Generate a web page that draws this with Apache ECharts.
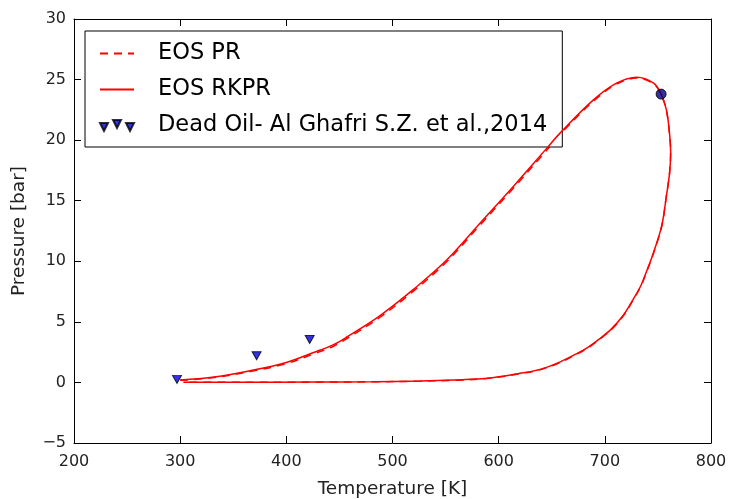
<!DOCTYPE html>
<html>
<head>
<meta charset="utf-8">
<script src="https://cdn.jsdelivr.net/npm/echarts@6/dist/echarts.min.js"></script>
<style>
  html, body { margin: 0; padding: 0; background: #fff; }
  #chart { width: 730px; height: 499px; }
</style>
</head>
<body>
<div id="chart"></div>
<script>
// phase envelope (T in K, P in bar), traced as a loop
var rkprT = [300, 330, 366, 400, 425, 444, 457, 488, 520, 551, 582, 614, 645, 658, 689, 711, 730, 746, 753, 758, 761, 762, 761, 758, 753.5, 745, 739, 734, 727, 717, 706, 695, 684, 674, 658, 640, 620, 589, 557, 526, 480, 420, 360, 303];
var rkprP = [0.2, 0.42, 0.97, 1.65, 2.45, 3.1, 3.75, 5.5, 7.7, 10.1, 13.1, 16.2, 19.3, 20.6, 23.3, 24.7, 25.2, 24.7, 23.8, 22.5, 20.5, 19, 17.3, 15.4, 12.9, 10.5, 9.1, 8.0, 6.9, 5.5, 4.4, 3.6, 2.9, 2.4, 1.7, 1.1, 0.75, 0.34, 0.2, 0.12, 0.06, 0.03, 0.02, 0.02];

var prT = [300, 330, 366, 400, 425, 444, 457, 488, 520, 551, 582, 614, 645, 658, 689, 711, 730, 746, 753, 758, 761, 762, 761, 758, 753.5, 745, 739, 734, 727, 717, 706, 695, 684, 674, 658, 640, 620, 589, 557, 526, 480, 420, 360, 305];
var prP = [0.17, 0.38, 0.9, 1.55, 2.33, 2.97, 3.62, 5.36, 7.56, 9.96, 12.95, 16.05, 19.15, 20.48, 23.2, 24.63, 25.12, 24.65, 23.75, 22.45, 20.45, 19, 17.3, 15.4, 12.85, 10.45, 9.05, 7.95, 6.85, 5.45, 4.35, 3.55, 2.85, 2.35, 1.65, 1.07, 0.72, 0.32, 0.18, 0.1, 0.05, 0.02, 0.01, 0.01];

// experimental points
var expT = [297, 372, 422];
var expP = [0.25, 2.2, 3.55];

// critical point
var critT = [753];
var critP = [23.8];

function pairs(xs, ys) {
    var out = [];
    for (var i = 0; i < xs.length; i++) out.push([xs[i], ys[i]]);
    return out;
}

var font = 'DejaVu Sans';
var threeTriangles = 'path://M0,3 L8,3 L4,11 Z M13,0 L21,0 L17,8 Z M26,3 L34,3 L30,11 Z';
var hideSymbol = { opacity: 0, borderWidth: 0 };

var myChart = echarts.init(document.getElementById('chart'));

var tickStyle = { show: true, inside: true, length: 7, lineStyle: { color: '#000', width: 1 } };
var lineStyle = { show: true, onZero: false, lineStyle: { color: '#000', width: 1 } };

var option = {
    backgroundColor: '#fff',
    animation: false,
    grid: { left: 74, right: 19, top: 19, bottom: 56, outerBoundsMode: 'none' },
    legend: {
        orient: 'vertical',
        left: 85,
        top: 31,
        padding: [11, 15, 10, 14],
        itemGap: 13,
        itemWidth: 34,
        itemHeight: 11,
        borderColor: '#000',
        borderWidth: 1,
        backgroundColor: '#fff',
        textStyle: { fontFamily: font, fontSize: 22.5, color: '#000', lineHeight: 23, padding: [0, 0, 0, 19] },
        data: [
            { name: 'EOS PR', itemStyle: hideSymbol },
            { name: 'EOS RKPR', itemStyle: hideSymbol },
            { name: 'Dead Oil- Al Ghafri S.Z. et al.,2014', icon: threeTriangles }
        ]
    },
    xAxis: [{
        type: 'value',
        min: 200, max: 800, interval: 100,
        name: 'Temperature [K]',
        nameLocation: 'middle',
        nameGap: 37,
        nameTextStyle: { fontFamily: font, fontSize: 18.5, color: '#222' },
        axisLine: lineStyle,
        axisTick: tickStyle,
        splitLine: { show: false },
        axisLabel: { fontFamily: font, fontSize: 16, color: '#222', margin: 11 }
    }, {
        type: 'value',
        position: 'top',
        min: 200, max: 800, interval: 100,
        axisLine: lineStyle,
        axisTick: tickStyle,
        splitLine: { show: false },
        axisLabel: { show: false }
    }],
    yAxis: [{
        type: 'value',
        min: -5, max: 30, interval: 5,
        name: 'Pressure [bar]',
        nameLocation: 'middle',
        nameGap: 45,
        nameRotate: 90,
        nameTextStyle: { fontFamily: font, fontSize: 18.5, color: '#222' },
        axisLine: lineStyle,
        axisTick: tickStyle,
        splitLine: { show: false },
        axisLabel: {
            fontFamily: font, fontSize: 16, color: '#222', margin: 8,
            formatter: function (v) { return String(v).replace('-', '\u2212'); }
        }
    }, {
        type: 'value',
        position: 'right',
        min: -5, max: 30, interval: 5,
        axisLine: lineStyle,
        axisTick: tickStyle,
        splitLine: { show: false },
        axisLabel: { show: false }
    }],
    series: [
        {
            name: 'EOS PR',
            type: 'line',
            data: pairs(prT, prP),
            symbol: 'none',
            smooth: 0.35,
            color: '#ff0000',
            lineStyle: { color: '#ff0000', width: 1.5, type: [8, 6] },
            z: 3
        },
        {
            name: 'EOS RKPR',
            type: 'line',
            data: pairs(rkprT, rkprP),
            symbol: 'none',
            smooth: 0.35,
            color: '#ff0000',
            lineStyle: { color: '#ff0000', width: 1.5 },
            z: 4
        },
        {
            name: 'Dead Oil- Al Ghafri S.Z. et al.,2014',
            type: 'scatter',
            data: pairs(expT, expP),
            symbol: 'triangle',
            symbolRotate: 180,
            symbolSize: [9, 8],
            itemStyle: { color: '#0000dd', borderColor: '#000', borderWidth: 1 },
            z: 5
        },
        {
            name: 'critical',
            type: 'scatter',
            data: pairs(critT, critP),
            symbol: 'circle',
            symbolSize: 10,
            itemStyle: { color: '#000080', borderColor: '#000', borderWidth: 1 },
            z: 5
        }
    ]
};

myChart.setOption(option);
</script>
</body>
</html>
